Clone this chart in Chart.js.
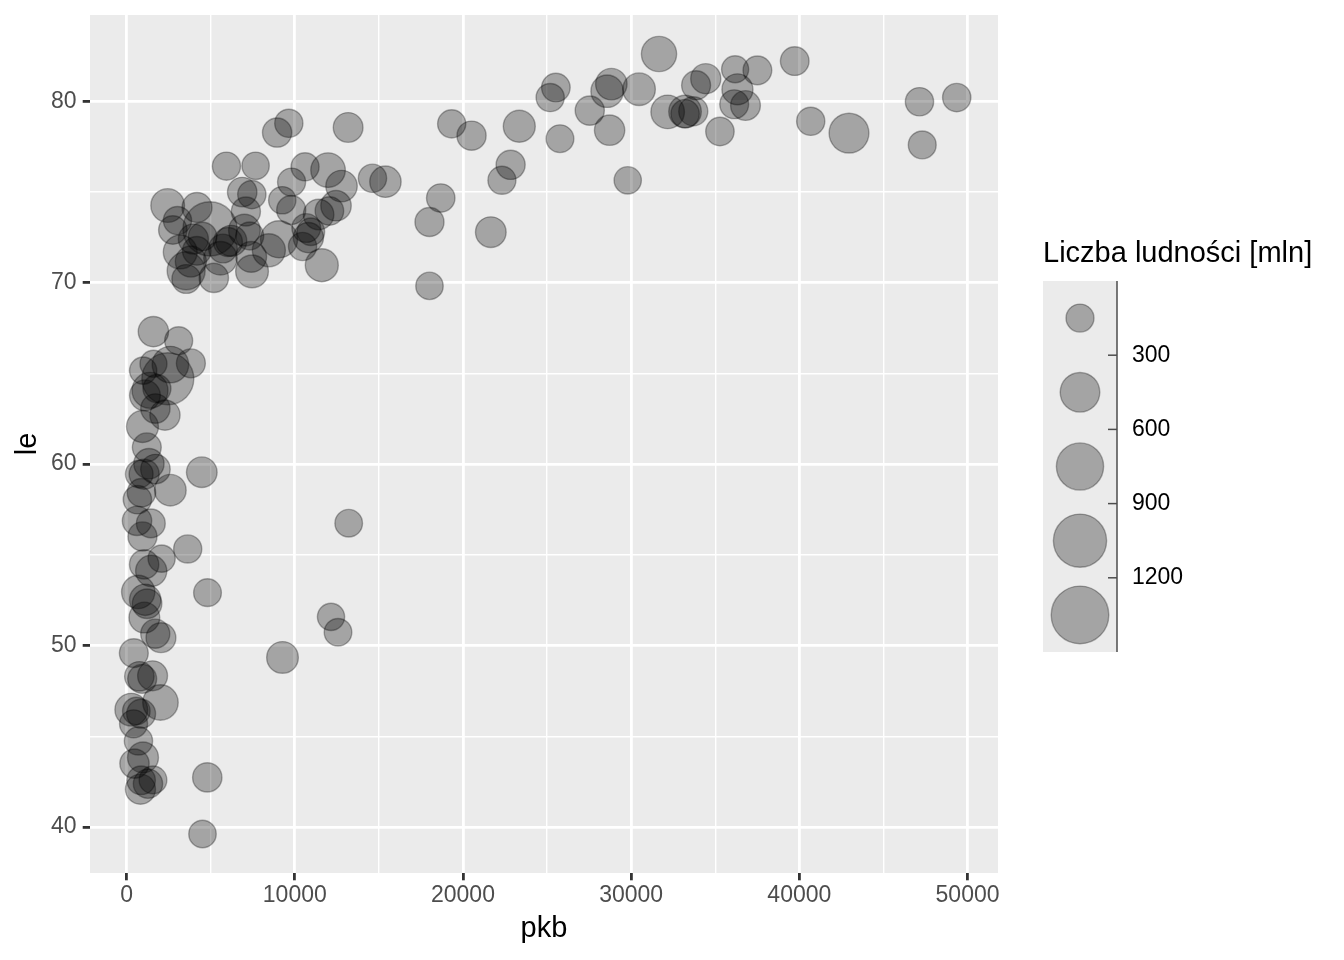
<!DOCTYPE html>
<html>
<head>
<meta charset="utf-8">
<title>pkb a le</title>
<script src="https://cdn.jsdelivr.net/npm/chart.js@4.4.1/dist/chart.umd.min.js"></script>
<style>
  html, body { margin: 0; padding: 0; background: #ffffff; }
  canvas { display: block; }
</style>
</head>
<body>
<canvas id="bubbleChart" width="1344" height="960"></canvas>
<script>
// Data (one point per country)
const kraje = [
  'Afghanistan', 'Albania', 'Algeria', 'Angola', 'Argentina', 'Australia', 'Austria', 'Bahrain',
  'Bangladesh', 'Belgium', 'Benin', 'Bolivia', 'Bosnia and Herzegovina', 'Botswana', 'Brazil',
  'Bulgaria', 'Burkina Faso', 'Burundi', 'Cambodia', 'Cameroon', 'Canada', 'Central African Republic',
  'Chad', 'Chile', 'China', 'Colombia', 'Comoros', 'Congo, Dem. Rep.', 'Congo, Rep.', 'Costa Rica',
  "Cote d'Ivoire", 'Croatia', 'Cuba', 'Czech Republic', 'Denmark', 'Djibouti', 'Dominican Republic',
  'Ecuador', 'Egypt', 'El Salvador', 'Equatorial Guinea', 'Eritrea', 'Ethiopia', 'Finland', 'France',
  'Gabon', 'Gambia', 'Germany', 'Ghana', 'Greece', 'Guatemala', 'Guinea', 'Guinea-Bissau', 'Haiti',
  'Honduras', 'Hong Kong', 'Hungary', 'Iceland', 'India', 'Indonesia', 'Iran', 'Iraq', 'Ireland',
  'Israel', 'Italy', 'Jamaica', 'Japan', 'Jordan', 'Kenya', 'Korea, Dem. Rep.', 'Korea, Rep.',
  'Kuwait', 'Lebanon', 'Lesotho', 'Liberia', 'Libya', 'Madagascar', 'Malawi', 'Malaysia', 'Mali',
  'Mauritania', 'Mauritius', 'Mexico', 'Mongolia', 'Montenegro', 'Morocco', 'Mozambique', 'Myanmar',
  'Namibia', 'Nepal', 'Netherlands', 'New Zealand', 'Nicaragua', 'Niger', 'Nigeria', 'Norway', 'Oman',
  'Pakistan', 'Panama', 'Paraguay', 'Peru', 'Philippines', 'Poland', 'Portugal', 'Puerto Rico',
  'Reunion', 'Romania', 'Rwanda', 'Sao Tome and Principe', 'Saudi Arabia', 'Senegal', 'Serbia',
  'Sierra Leone', 'Singapore', 'Slovak Republic', 'Slovenia', 'Somalia', 'South Africa', 'Spain',
  'Sri Lanka', 'Sudan', 'Swaziland', 'Sweden', 'Switzerland', 'Syria', 'Taiwan', 'Tanzania',
  'Thailand', 'Togo', 'Trinidad and Tobago', 'Tunisia', 'Turkey', 'Uganda', 'United Kingdom',
  'United States', 'Uruguay', 'Venezuela', 'Vietnam', 'West Bank and Gaza', 'Yemen, Rep.',
  'Zambia', 'Zimbabwe'
];

const pkb = [
  975, 5937, 6223, 4797, 12779, 34435, 36126, 29796,
  1391, 33693, 1441, 3822, 7446, 12570, 9066,
  10681, 1217, 430, 1714, 2042, 36319, 706,
  1704, 13172, 4959, 7007, 986, 278, 3633, 9645,
  1545, 14619, 8948, 22833, 35278, 2082, 6025,
  6873, 5581, 5728, 12154, 641, 691, 33207, 30470,
  13206, 753, 32170, 1328, 27538, 5186, 943, 579, 1202,
  3548, 39725, 18009, 36181, 2452, 3541, 11606, 4471, 40676,
  25523, 28570, 7321, 31656, 4519, 1463, 1593, 23348,
  47307, 10461, 1569, 415, 12058, 1045, 759, 12452, 1043,
  1803, 10957, 11978, 3096, 9254, 3820, 824, 944,
  4811, 1091, 36798, 25185, 2749, 620, 2014, 49357, 22316,
  2606, 9809, 4173, 7409, 3190, 15390, 20510, 19329,
  7670, 10808, 863, 1598, 21655, 1712, 9787,
  863, 47143, 18678, 25768, 926, 9270, 28821,
  3970, 2602, 4513, 33860, 37506, 4185, 28718, 1107,
  7458, 883, 18009, 7093, 8458, 1056, 33203,
  42952, 10611, 11416, 2442, 3025, 2281,
  1271, 470
];

const le = [
  43.83, 76.42, 72.30, 42.73, 75.32, 81.24, 79.83, 75.64,
  64.06, 79.44, 56.73, 65.55, 74.85, 50.73, 72.39,
  73.01, 52.30, 49.58, 59.72, 50.43, 80.65, 44.74,
  50.65, 78.55, 72.96, 72.89, 65.15, 46.46, 55.32, 78.78,
  48.33, 75.75, 78.27, 76.49, 78.33, 54.79, 72.24,
  74.99, 71.34, 71.88, 51.58, 58.04, 52.95, 79.31, 80.66,
  56.74, 59.45, 79.41, 60.02, 79.48, 70.26, 56.01, 46.39, 60.92,
  70.20, 82.21, 73.34, 81.76, 64.70, 70.65, 70.96, 59.55, 78.89,
  80.75, 80.55, 72.57, 82.60, 72.54, 54.11, 67.30, 78.62,
  77.59, 71.99, 42.59, 45.68, 73.95, 59.44, 48.30, 74.24, 54.47,
  64.16, 72.80, 76.20, 66.80, 74.54, 71.16, 42.08, 62.07,
  52.91, 63.79, 79.76, 80.20, 72.90, 56.87, 46.86, 80.20, 75.64,
  65.48, 75.54, 71.75, 71.42, 71.69, 75.56, 78.10, 78.75,
  76.44, 72.48, 46.24, 65.53, 72.78, 63.06, 74.00,
  42.57, 79.97, 74.66, 77.93, 48.16, 49.34, 80.94,
  72.40, 58.56, 39.61, 80.88, 81.70, 74.14, 78.40, 52.52,
  70.62, 58.42, 69.82, 73.92, 71.78, 51.54, 79.43,
  78.24, 76.38, 73.75, 74.25, 73.42, 62.70,
  42.38, 43.49
];

// population, millions
const ludnosc = [
  31.89, 3.60, 33.33, 12.42, 40.30, 20.43, 8.20, 0.71,
  150.45, 10.39, 8.08, 9.12, 4.55, 1.64, 190.01,
  7.32, 14.33, 8.39, 14.13, 17.70, 33.39, 4.37,
  10.24, 16.28, 1318.68, 44.23, 0.71, 64.61, 3.80, 4.13,
  18.01, 4.49, 11.42, 10.23, 5.47, 0.50, 9.32,
  13.76, 80.26, 6.94, 0.55, 4.91, 76.51, 5.24, 61.08,
  1.45, 1.69, 82.40, 22.87, 10.71, 12.57, 9.95, 1.47, 8.50,
  7.48, 6.98, 9.96, 0.30, 1110.40, 223.55, 69.45, 27.50, 4.11,
  6.43, 58.15, 2.78, 127.47, 6.05, 35.61, 23.30, 49.04,
  2.51, 3.92, 2.01, 3.19, 6.04, 19.17, 13.33, 24.82, 12.03,
  3.27, 1.25, 108.70, 2.87, 0.68, 33.76, 19.95, 47.76,
  2.06, 28.90, 16.57, 4.12, 5.68, 12.89, 135.03, 4.63, 3.20,
  169.27, 3.24, 6.67, 28.67, 91.08, 38.52, 10.64, 3.94,
  0.80, 22.28, 8.86, 0.20, 27.60, 12.27, 10.15,
  6.14, 4.55, 5.45, 2.01, 9.12, 44.00, 40.45,
  20.38, 42.29, 1.13, 9.03, 7.55, 19.31, 23.17, 38.14,
  65.07, 5.70, 1.06, 10.28, 71.16, 29.17, 60.78,
  301.14, 3.45, 26.08, 85.26, 4.02, 22.21,
  11.75, 12.31
];

// Axis ticks
const xTickValues = [0, 5000, 10000, 15000, 20000, 25000, 30000, 35000, 40000, 45000, 50000];
const yTickValues = [40, 45, 50, 55, 60, 65, 70, 75, 80];
const legendBreaks = [300, 600, 900, 1200];
const legendTitle = 'Liczba ludności [mln]';

// Style
const FONT = '"Liberation Sans", Arial, Helvetica, sans-serif';
const PANEL_BG = '#EBEBEB';
const POINT_FILL = 'rgba(0, 0, 0, 0.3)';
const R_MIN = 14.2;
const R_MAX = 27.8;
const BORDER_W = 1.4;
const LEGEND_KEY_R = [14.7, 20.5, 24.3, 27.3, 29.5];

// ggplot-like sqrt size scale
const sMin = Math.sqrt(Math.min(...ludnosc));
const sMax = Math.sqrt(Math.max(...ludnosc));
function bubbleRadius(p) {
    const t = (Math.sqrt(p) - sMin) / (sMax - sMin);
    return R_MIN + (R_MAX - R_MIN) * t - BORDER_W / 2;
}

// 5% expansion of the data range, like ggplot does
function expandRange(values) {
    const lo = Math.min(...values);
    const hi = Math.max(...values);
    const pad = (hi - lo) * 0.05;
    return [lo - pad, hi + pad];
}
const [xMin, xMax] = expandRange(pkb);
const [yMin, yMax] = expandRange(le);

const isMajorX = v => v % 10000 === 0;
const isMajorY = v => v % 10 === 0;

// Grey panel behind the grid
const panelBackground = {
    id: 'panelBackground',
    beforeDraw(chart) {
        const { ctx, chartArea: a } = chart;
        ctx.save();
        ctx.fillStyle = '#ffffff';
        ctx.fillRect(0, 0, chart.width, chart.height);
        ctx.fillStyle = PANEL_BG;
        ctx.fillRect(a.left, a.top, a.right - a.left, a.bottom - a.top);
        ctx.restore();
    }
};

// Size legend on the right (binned style)
const sizeLegend = {
    id: 'sizeLegend',
    afterDraw(chart) {
        const ctx = chart.ctx;
        const left = 1043, top = 281, keyW = 74, keyH = 74.2;
        const n = LEGEND_KEY_R.length;
        ctx.save();

        ctx.fillStyle = '#000000';
        ctx.font = '29px ' + FONT;
        ctx.textAlign = 'left';
        ctx.textBaseline = 'alphabetic';
        ctx.fillText(legendTitle, left, 262);

        ctx.fillStyle = PANEL_BG;
        ctx.fillRect(left, top, keyW, keyH * n);

        LEGEND_KEY_R.forEach((r, i) => {
            ctx.beginPath();
            ctx.arc(left + 37, top + keyH * (i + 0.5), r - BORDER_W / 2, 0, Math.PI * 2);
            ctx.fillStyle = POINT_FILL;
            ctx.fill();
            ctx.lineWidth = BORDER_W;
            ctx.strokeStyle = POINT_FILL;
            ctx.stroke();
        });

        const axisX = left + keyW;
        ctx.strokeStyle = '#4D4D4D';
        ctx.lineWidth = 1.5;
        ctx.beginPath();
        ctx.moveTo(axisX, top);
        ctx.lineTo(axisX, top + keyH * n);
        ctx.stroke();

        ctx.font = '23px ' + FONT;
        ctx.fillStyle = '#000000';
        ctx.textBaseline = 'middle';
        legendBreaks.forEach((b, i) => {
            const y = top + keyH * (i + 1);
            ctx.beginPath();
            ctx.moveTo(axisX - 9, y);
            ctx.lineTo(axisX, y);
            ctx.stroke();
            ctx.fillText(String(b), axisX + 15, y);
        });
        ctx.restore();
    }
};

const tickFont = { family: FONT, size: 23 };
const titleFont = { family: FONT, size: 29 };

const ctx = document.getElementById('bubbleChart');
const bubbleChart = new Chart(ctx, {
    type: 'scatter',
    data: {
        datasets: [{
            label: 'kraje',
            data: pkb.map((x, i) => ({ x: x, y: le[i] })),
            pointRadius: ludnosc.map(bubbleRadius),
            backgroundColor: POINT_FILL,
            borderColor: POINT_FILL,
            borderWidth: BORDER_W
        }]
    },
    options: {
        responsive: false,
        animation: false,
        devicePixelRatio: 1,
        events: [],
        layout: {
            autoPadding: false,
            padding: { top: 15, right: 346, bottom: 0, left: 0 }
        },
        plugins: {
            legend: { display: false },
            tooltip: { enabled: false }
        },
        scales: {
            x: {
                type: 'linear',
                min: xMin,
                max: xMax,
                afterBuildTicks: axis => { axis.ticks = xTickValues.map(v => ({ value: v })); },
                afterFit: axis => {
                    axis.height = 87;
                    axis.paddingLeft = 0;
                    axis.paddingRight = 0;
                },
                border: { display: false },
                grid: {
                    color: '#ffffff',
                    lineWidth: c => (c.tick && isMajorX(c.tick.value)) ? 2.8 : 1.4,
                    tickColor: c => (c.tick && isMajorX(c.tick.value)) ? '#333333' : 'rgba(0,0,0,0)',
                    tickWidth: 2.8,
                    tickLength: 7.3
                },
                ticks: {
                    autoSkip: false,
                    maxRotation: 0,
                    padding: 1.2,
                    color: '#4D4D4D',
                    font: tickFont,
                    callback: v => isMajorX(v) ? String(v) : ''
                },
                title: {
                    display: true,
                    text: 'pkb',
                    color: '#000000',
                    font: titleFont,
                    padding: { top: 0, bottom: 13.5 }
                }
            },
            y: {
                type: 'linear',
                min: yMin,
                max: yMax,
                afterBuildTicks: axis => { axis.ticks = yTickValues.map(v => ({ value: v })); },
                afterFit: axis => {
                    axis.width = 90;
                    axis.paddingTop = 0;
                    axis.paddingBottom = 0;
                },
                border: { display: false },
                grid: {
                    color: '#ffffff',
                    lineWidth: c => (c.tick && isMajorY(c.tick.value)) ? 2.8 : 1.4,
                    tickColor: c => (c.tick && isMajorY(c.tick.value)) ? '#333333' : 'rgba(0,0,0,0)',
                    tickWidth: 2.8,
                    tickLength: 7.3
                },
                ticks: {
                    autoSkip: false,
                    padding: 6.2,
                    color: '#4D4D4D',
                    font: tickFont,
                    callback: v => isMajorY(v) ? String(v) : ''
                },
                title: {
                    display: true,
                    text: 'le',
                    color: '#000000',
                    font: titleFont,
                    padding: { top: 10.5, bottom: 0 }
                }
            }
        }
    },
    plugins: [panelBackground, sizeLegend]
});
</script>
</body>
</html>
